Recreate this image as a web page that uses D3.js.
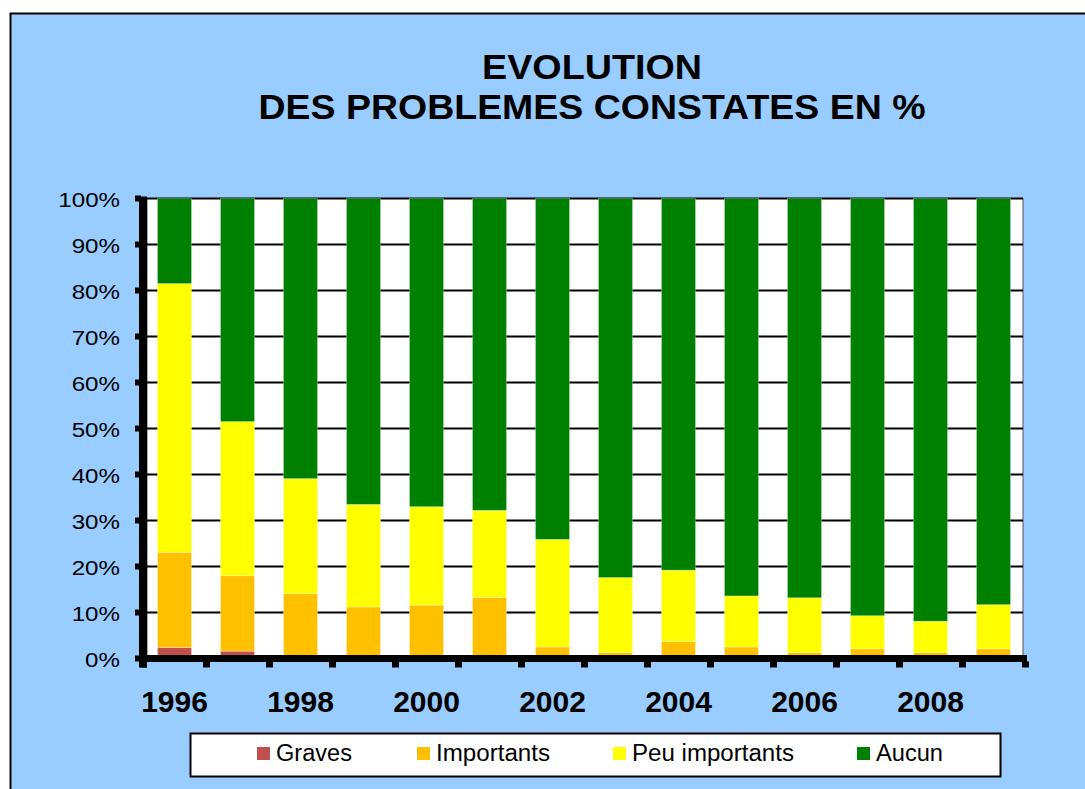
<!DOCTYPE html>
<html>
<head>
<meta charset="utf-8">
<script src="https://cdn.jsdelivr.net/npm/d3@7"></script>
<style>
    body { margin: 0; background: #fff; }
    text { font-family: "Liberation Sans", Arial, sans-serif; fill: #000; }
</style>
</head>
<body>
<div id="chart"></div>
<script>
// DATA (percent of each category per year)
var years = ["1996", "1997", "1998", "1999", "2000", "2001", "2002", "2003", "2004", "2005", "2006", "2007", "2008", "2009"];
var graves = [2.4, 1.6, 0, 0, 0, 0, 0, 0, 0, 0, 0, 0, 0, 0];
var importants = [20.7, 16.4, 14.1, 11.2, 11.6, 13.3, 2.5, 1.3, 3.7, 2.5, 1.3, 2.1, 1.3, 2.1];
var peuImportants = [58.4, 33.5, 25.0, 22.3, 21.4, 18.9, 23.4, 16.3, 15.5, 11.1, 11.9, 7.2, 6.8, 9.6];
var aucun = [18.5, 48.5, 60.9, 66.5, 67.0, 67.8, 74.1, 82.4, 80.8, 86.4, 86.8, 90.7, 91.9, 88.3];
var seriesNames = ["Graves", "Importants", "Peu importants", "Aucun"];
var yTicks = [0, 10, 20, 30, 40, 50, 60, 70, 80, 90, 100];
var yearLabels = ["1996", "1998", "2000", "2002", "2004", "2006", "2008"];
var titleLines = ["EVOLUTION", "DES PROBLEMES CONSTATES EN %"];

// SETTINGS
var WIDTH = 1085, HEIGHT = 789;
var COLORS = ["#C0504D", "#FFC000", "#FFFF00", "#008000"];
var PLOT = { left: 143, right: 1025, top: 198.5, bottom: 658.5 };

// build table for the stack layout
var seriesValues = [graves, importants, peuImportants, aucun];
var table = years.map(function (y, i) {
    var row = { year: y };
    seriesNames.forEach(function (s, j) { row[s] = seriesValues[j][i]; });
    return row;
});
var stacked = d3.stack().keys(seriesNames)(table);

var svg = d3.select("#chart").append("svg")
    .attr("width", WIDTH)
    .attr("height", HEIGHT);

// Outer frame (runs off the right and bottom edges)
svg.append("rect")
    .attr("x", 10.5).attr("y", 13.5)
    .attr("width", WIDTH + 20).attr("height", HEIGHT + 20)
    .attr("fill", "#99CCFF")
    .attr("stroke", "#000")
    .attr("stroke-width", 2);

// Title
svg.append("g").selectAll("text")
    .data(titleLines)
    .enter().append("text")
        .attr("x", 592)
        .attr("y", function (d, i) { return 79 + i * 40; })
        .attr("text-anchor", "middle")
        .attr("font-size", 35)
        .attr("font-weight", "bold")
        .attr("textLength", function (d, i) { return i == 0 ? 220 : 667; })
        .attr("lengthAdjust", "spacingAndGlyphs")
        .text(function (d) { return d; });

var x = d3.scaleBand()
    .domain(years)
    .range([PLOT.left, PLOT.right])
    .paddingInner(0.46)
    .paddingOuter(0.23);

var y = d3.scaleLinear()
    .domain([0, 100])
    .range([PLOT.bottom, PLOT.top]);

// Plot area
svg.append("rect")
    .attr("x", PLOT.left + 4).attr("y", y(100))
    .attr("width", PLOT.right - PLOT.left - 6)
    .attr("height", y(0) - y(100))
    .attr("fill", "#fff")
    .attr("stroke", "#555")
    .attr("stroke-width", 1);

// Gridlines
svg.append("g").selectAll("line")
    .data(yTicks)
    .enter().append("line")
        .attr("x1", PLOT.left).attr("x2", PLOT.right - 2)
        .attr("y1", function (d) { return y(d); })
        .attr("y2", function (d) { return y(d); })
        .attr("stroke", "#000")
        .attr("stroke-width", 2);

// Bars
svg.append("g").selectAll("g")
    .data(stacked)
    .enter().append("g")
        .attr("fill", function (d, i) { return COLORS[i]; })
    .selectAll("rect")
    .data(function (d) { return d; })
    .enter().append("rect")
        .attr("x", function (d) { return x(d.data.year); })
        .attr("width", x.bandwidth())
        .attr("y", function (d) { return y(d[1]); })
        .attr("height", function (d) { return y(d[0]) - y(d[1]); })
        .attr("stroke", "rgba(255,255,255,0.35)")
        .attr("stroke-width", 0.8);

// Y axis: thick line, square ticks, labels
svg.append("line")
    .attr("x1", PLOT.left).attr("x2", PLOT.left)
    .attr("y1", y(100) - 2).attr("y2", y(0) + 9)
    .attr("stroke", "#000")
    .attr("stroke-width", 8);

svg.append("g").selectAll("rect")
    .data(yTicks)
    .enter().append("rect")
        .attr("x", PLOT.left - 8)
        .attr("y", function (d) { return y(d) - 3; })
        .attr("width", 6).attr("height", 6)
        .attr("fill", "#000");

svg.append("g").selectAll("text")
    .data(yTicks)
    .enter().append("text")
        .attr("transform", function (d) { return "translate(120," + (y(d) + 8) + ") scale(1.15,1)"; })
        .attr("text-anchor", "end")
        .attr("font-size", 21)
        .text(function (d) { return d + "%"; });

// X axis: thick line, ticks at category boundaries, labels
svg.append("line")
    .attr("x1", PLOT.left - 4).attr("x2", PLOT.right + 2)
    .attr("y1", y(0)).attr("y2", y(0))
    .attr("stroke", "#000")
    .attr("stroke-width", 7);

var boundaries = years.map(function (d) { return x(d) - x.step() * x.paddingInner() / 2; });
boundaries.push(PLOT.right);
svg.append("g").selectAll("rect")
    .data(boundaries)
    .enter().append("rect")
        .attr("x", function (d) { return d - 3; })
        .attr("y", y(0) + 3)
        .attr("width", 7).attr("height", 6)
        .attr("fill", "#000");

svg.append("g").selectAll("text")
    .data(yearLabels)
    .enter().append("text")
        .attr("x", function (d) { return x(d) + x.bandwidth() / 2; })
        .attr("y", 712)
        .attr("text-anchor", "middle")
        .attr("font-size", 30)
        .attr("font-weight", "bold")
        .text(function (d) { return d; });

// Legend
var legend = svg.append("g");
legend.append("rect")
    .attr("x", 190.5).attr("y", 733.5)
    .attr("width", 810).attr("height", 43)
    .attr("fill", "#fff")
    .attr("stroke", "#000")
    .attr("stroke-width", 2);

// marker positions and text widths
var legendX = [257, 417, 613, 857];
var legendW = [76, 114, 162, 67];
var item = legend.selectAll("g.item")
    .data(seriesNames)
    .enter().append("g")
        .attr("class", "item")
        .attr("transform", function (d, i) { return "translate(" + legendX[i] + ",747)"; });

item.append("rect")
    .attr("x", 0).attr("y", 0)
    .attr("width", 13).attr("height", 13)
    .attr("fill", function (d, i) { return COLORS[i]; });

item.append("text")
    .attr("x", 19)
    .attr("y", 14)
    .attr("font-size", 23)
    .attr("textLength", function (d, i) { return legendW[i]; })
    .attr("lengthAdjust", "spacingAndGlyphs")
    .text(function (d) { return d; });
</script>
</body>
</html>
